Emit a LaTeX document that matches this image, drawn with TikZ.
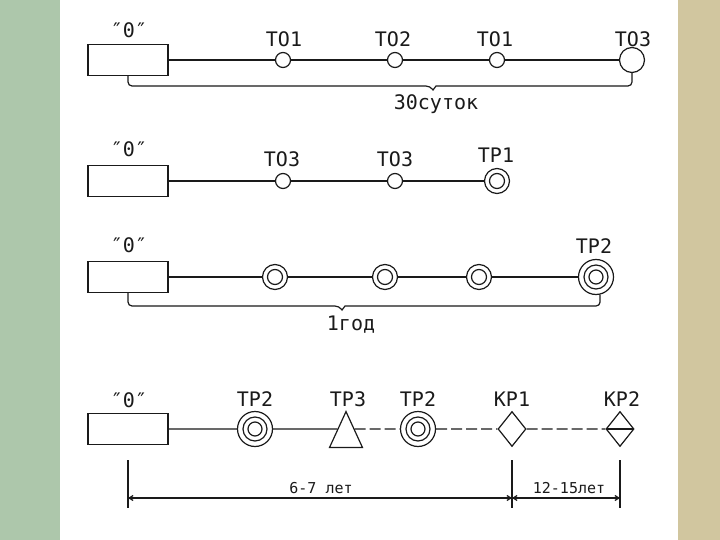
\documentclass[tikz,border=0pt]{standalone}
\usepackage{fontspec}
\setmonofont{DejaVu Sans Mono}
\usetikzlibrary{shapes.geometric,arrows.meta}
\definecolor{sidegreen}{HTML}{ADC7AB}
\definecolor{sidesand}{HTML}{D1C69F}
\definecolor{ink}{HTML}{1A1A1A}
\tikzstyle{every node}=[inner sep=0pt,text=ink]
\tikzstyle{zerobox}=[draw,rectangle,minimum width=80pt,minimum height=31pt]
\tikzstyle{tosmall}=[draw,circle,minimum size=15pt]
\tikzstyle{tobig}=[draw,circle,minimum size=25pt]
\tikzstyle{trone}=[draw,circle,minimum size=25pt,
	path picture={\draw (path picture bounding box.center) circle (7.5pt);}]
\tikzstyle{trtwo}=[draw,circle,minimum size=35pt,
	path picture={\draw (path picture bounding box.center) circle (12pt)
		(path picture bounding box.center) circle (7pt);}]
\tikzstyle{trthree}=[draw,isosceles triangle,shape border rotate=90,
	isosceles triangle stretches,minimum width=33pt,minimum height=36pt]
\tikzstyle{krone}=[draw,diamond,minimum width=28pt,minimum height=35pt]
\tikzstyle{krtwo}=[krone,
	path picture={\draw (path picture bounding box.west) -- (path picture bounding box.east);}]
\tikzstyle{lbl}=[anchor=base,font=\fontsize{20}{20}\selectfont\ttfamily]
\tikzstyle{dimlbl}=[anchor=base,font=\fontsize{15}{15}\selectfont\ttfamily]
\tikzstyle{dashline}=[dash pattern=on 11pt off 4pt]
\tikzstyle{dimline}=[{Straight Barb[length=4pt,width=5pt]}-{Straight Barb[length=4pt,width=5pt]}]

\begin{document}
\begin{tikzpicture}[x=1pt,y=-1pt,line width=1.2pt,draw=ink]
	\useasboundingbox (0,0) rectangle (720,540);
	\fill[sidegreen] (0,0) rectangle (60,540);
	\fill[white] (60,0) rectangle (678,540);
	\fill[sidesand] (678,0) rectangle (720,540);

	% 30 суток
	\node[zerobox] (o1) at (128,60) {};
	\node[tosmall] (a1) at (283,60) {};
	\node[tosmall] (a2) at (395,60) {};
	\node[tosmall] (a3) at (497,60) {};
	\node[tobig] (a4) at (632,60) {};
	\draw (o1) -- (a1) -- (a2) -- (a3) -- (a4);
	\node[lbl] (ol1) at (129,38) {″0″};
	\node[lbl] (al1) at (284,47) {ТО1};
	\node[lbl] (al2) at (393,47) {ТО2};
	\node[lbl] (al3) at (495,47) {ТО1};
	\node[lbl] (al4) at (633,47) {ТО3};
	\coordinate (m1) at (433,90);
	\draw[rounded corners=4pt] (o1.south) |- ([xshift=-3pt]m1 |- 0,86) [sharp corners] -- (m1)
		-- ([xshift=3pt]m1 |- 0,86) [rounded corners=4pt] -| (a4.south);
	\node[lbl] (t1) at (436,110) {30суток};

	% ТР1
	\node[zerobox] (o2) at (128,181) {};
	\node[tosmall] (b1) at (283,181) {};
	\node[tosmall] (b2) at (395,181) {};
	\node[trone] (b3) at (497,181) {};
	\draw (o2) -- (b1) -- (b2) -- (b3);
	\node[lbl] (ol2) at (129,157) {″0″};
	\node[lbl] (bl1) at (282,167) {ТО3};
	\node[lbl] (bl2) at (395,167) {ТО3};
	\node[lbl] (bl3) at (496,163) {ТР1};

	% 1 год
	\node[zerobox] (o3) at (128,277) {};
	\node[trone] (c1) at (275,277) {};
	\node[trone] (c2) at (385,277) {};
	\node[trone] (c3) at (479,277) {};
	\node[trtwo] (c4) at (596,277) {};
	\draw (o3) -- (c1) -- (c2) -- (c3) -- (c4);
	\node[lbl] (ol3) at (129,252) {″0″};
	\node[lbl] (cl4) at (594,253) {ТР2};
	\coordinate (m3) at (342,310);
	\draw[rounded corners=4pt] (o3.south) |- ([xshift=-3pt]m3 |- 0,306) [sharp corners] -- (m3)
		-- ([xshift=3pt]m3 |- 0,306) [rounded corners=4pt] -| (c4.-77);
	\node[lbl] (t3) at (351,330) {1год};

	% цикл
	\node[zerobox] (o4) at (128,429) {};
	\node[trtwo] (d1) at (255,429) {};
	\node[trthree,anchor=apex] (d2) at (346,410) {};
	\node[trtwo] (d3) at (418,429) {};
	\node[krone] (d4) at (512,429) {};
	\node[krtwo] (d5) at (620,429) {};
	\draw (o4) -- (d1) -- (d2.left side);
	\draw[dashline] (d2.right side) -- (d3) -- (d4) -- (d5);
	\node[lbl] (ol4) at (129,407) {″0″};
	\node[lbl] (dl1) at (255,406) {ТР2};
	\node[lbl] (dl2) at (348,406) {ТР3};
	\node[lbl] (dl3) at (418,406) {ТР2};
	\node[lbl] (dl4) at (512,406) {КР1};
	\node[lbl] (dl5) at (622,406) {КР2};

	\coordinate (e0t) at (o4.south |- 0,460);
	\coordinate (e0b) at (o4.south |- 0,508);
	\coordinate (e1t) at (d4.south |- 0,460);
	\coordinate (e1b) at (d4.south |- 0,508);
	\coordinate (e2t) at (d5.south |- 0,460);
	\coordinate (e2b) at (d5.south |- 0,508);
	\draw (e0t) -- (e0b) (e1t) -- (e1b) (e2t) -- (e2b);
	\coordinate (e0) at (o4.south |- 0,498);
	\coordinate (e1) at (d4.south |- 0,498);
	\coordinate (e2) at (d5.south |- 0,498);
	\draw[dimline] (e0) -- (e1);
	\draw[dimline] (e1) -- (e2);
	\node[dimlbl] (s1) at (321,493) {6-7 лет};
	\node[dimlbl] (s2) at (569,493) {12-15лет};
\end{tikzpicture}
\end{document}
